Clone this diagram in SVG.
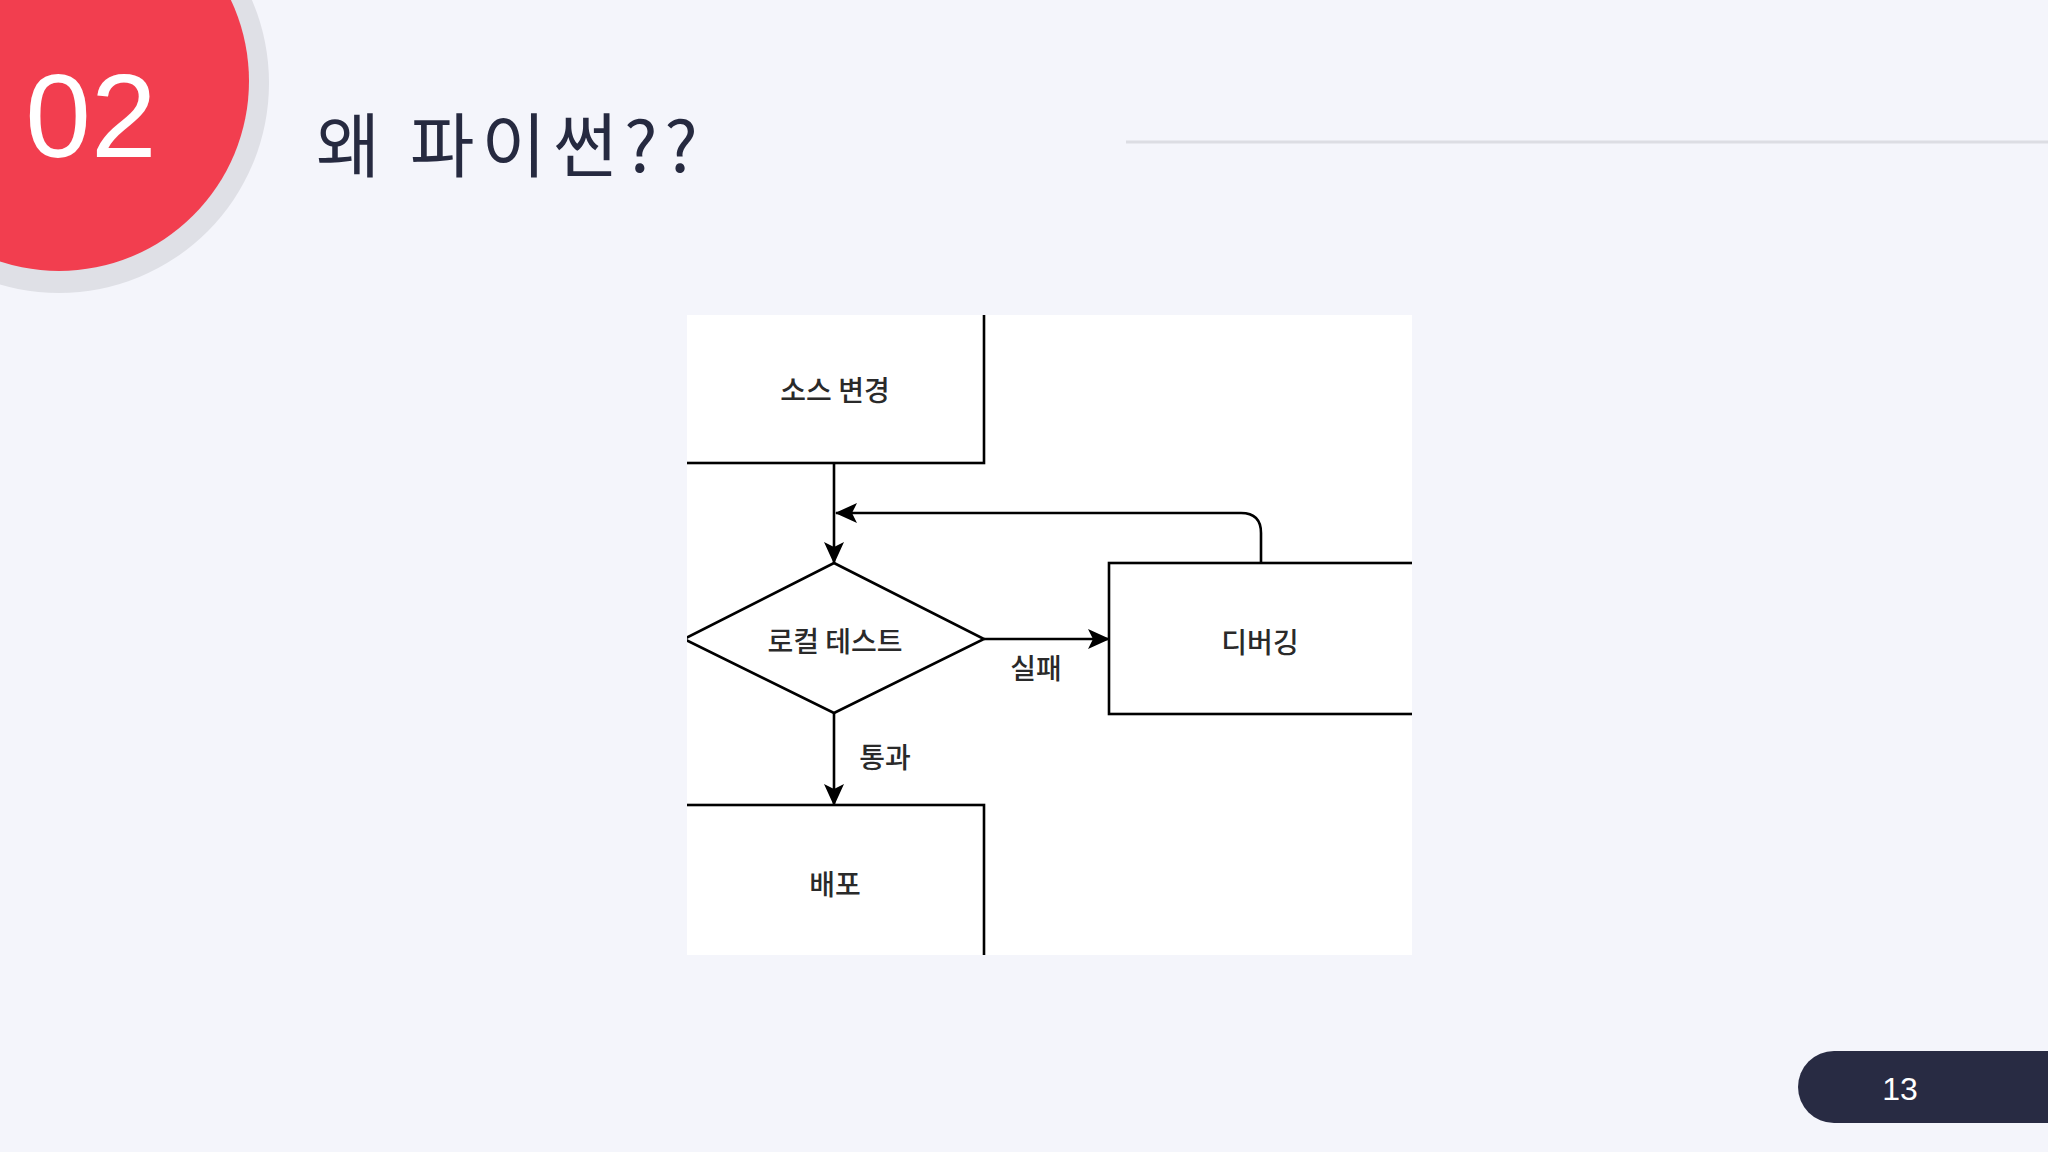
<svg xmlns="http://www.w3.org/2000/svg" width="2048" height="1152" viewBox="0 0 2048 1152">
<style>
.node{fill:#ffffff;stroke:#000;stroke-width:2.6}
.lbl{font-family:"Noto Sans CJK KR","Noto Sans",sans-serif;font-size:28px;font-weight:500;fill:#2a2a2a;text-anchor:middle;dominant-baseline:central}
.conn{fill:none;stroke:#000;stroke-width:2.6}
</style>
<defs>
<marker id="arr" viewBox="0 0 22 20" markerWidth="22" markerHeight="20" refX="21" refY="10" orient="auto" markerUnits="userSpaceOnUse">
<path d="M0,0 L22,10 L0,20 L5,10 z" fill="#000"/>
</marker>
<clipPath id="panelClip"><rect x="687" y="315" width="725" height="640"/></clipPath>
</defs>
<rect width="2048" height="1152" fill="#f4f5fb"/>
<g id="badge">
<circle cx="59" cy="83" r="210" fill="#dfe0e6"/>
<circle cx="59" cy="81" r="190" fill="#f23e4f"/>
<text x="91" y="157" font-family="Liberation Sans, Arial, sans-serif" font-size="118" fill="#ffffff" text-anchor="middle">02</text>
</g>
<g id="title">
<text x="316" y="172" font-family="Noto Sans CJK KR, sans-serif" font-size="70" letter-spacing="7" fill="#262a40">왜 파이썬??</text>
<line x1="1126" y1="142" x2="2048" y2="142" stroke="#dcdde3" stroke-width="3"/>
</g>
<rect id="panel" x="687" y="315" width="725" height="640" fill="#ffffff"/>
<g clip-path="url(#panelClip)">
<g id="connectors">
<path class="conn" d="M834,463 L834,563" marker-end="url(#arr)"/>
<path class="conn" d="M1261,563 L1261,533 Q1261,513 1241,513 L836,513" marker-end="url(#arr)"/>
<path class="conn" d="M984,639 L1109,639" marker-end="url(#arr)"/>
<path class="conn" d="M834,713 L834,805" marker-end="url(#arr)"/>
<text class="lbl" x="1036" y="667">실패</text>
<text class="lbl" x="885" y="756">통과</text>
</g>
<g id="source">
<rect class="node" x="680" y="300" width="304" height="163"/>
<text class="lbl" x="835" y="389">소스 변경</text>
</g>
<g id="test">
<polygon class="node" points="834,563 984,639 834,713 684,639"/>
<text class="lbl" x="835" y="640">로컬 테스트</text>
</g>
<g id="debug">
<rect class="node" x="1109" y="563" width="320" height="151"/>
<text class="lbl" x="1260" y="641">디버깅</text>
</g>
<g id="deploy">
<rect class="node" x="680" y="805" width="304" height="170"/>
<text class="lbl" x="835" y="883">배포</text>
</g>
</g>
<g id="page">
<rect x="1798" y="1051" width="300" height="72" rx="36" fill="#282b43"/>
<text x="1900" y="1100" font-family="Liberation Sans, Arial, sans-serif" font-size="32" fill="#ffffff" text-anchor="middle">13</text>
</g>
</svg>
